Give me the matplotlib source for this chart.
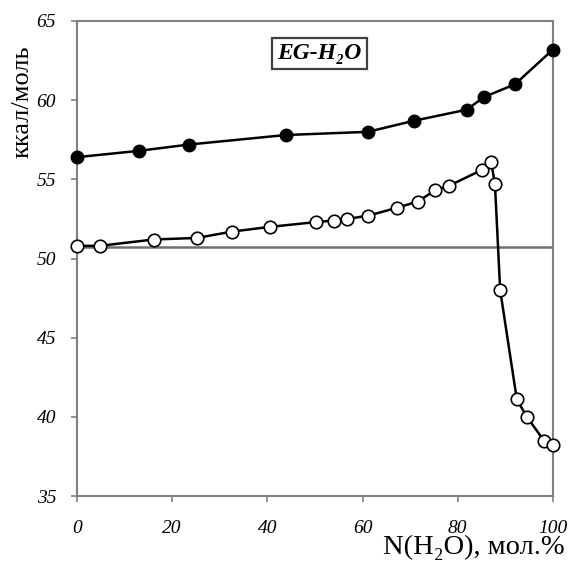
import matplotlib.pyplot as plt

# верхняя кривая (закрашенные точки)
x_top = [0, 13.0, 23.6, 43.9, 61.1, 70.8, 81.9, 85.5, 92.0, 100]
y_top = [56.4, 56.8, 57.2, 57.8, 58.0, 58.7, 59.4, 60.2, 61.0, 63.2]

# нижняя кривая (пустые точки)
x_bot = [0, 4.8, 16.1, 25.2, 32.6, 40.6, 50.2, 54.0, 56.7, 61.1, 67.2, 71.6,
         75.2, 78.2, 85.1, 87.0, 87.8, 88.9, 92.4, 94.5, 98.1, 100]
y_bot = [50.8, 50.8, 51.2, 51.3, 51.7, 52.0, 52.3, 52.4, 52.5, 52.7, 53.2, 53.6,
         54.3, 54.6, 55.6, 56.1, 54.7, 48.0, 41.1, 40.0, 38.5, 38.2]

level = 50.7
xticks = [0, 20, 40, 60, 80, 100]
yticks = [35, 40, 45, 50, 55, 60, 65]

serif = ['Liberation Serif', 'DejaVu Serif']
plt.rcParams['font.family'] = serif

fig = plt.figure(figsize=(5.69, 5.63), dpi=100)
ax = fig.add_axes([0.1353, 0.119, 0.8366, 0.8437])

ax.axhline(level, color='#707070', lw=1.8, zorder=1)
ax.plot(x_top, y_top, '-o', color='black', lw=1.8, ms=9,
        mfc='black', mec='black', clip_on=False, zorder=3)
ax.plot(x_bot, y_bot, '-o', color='black', lw=1.8, ms=9,
        mfc='white', mec='black', mew=1.2, clip_on=False, zorder=3)

ax.set_xlim(0, 100)
ax.set_ylim(35, 65)
ax.set_xticks(xticks)
ax.set_yticks(yticks)
for s in ax.spines.values():
    s.set_color('#808080')
    s.set_linewidth(1.5)
ax.tick_params(axis='both', direction='out', length=4, width=1.2, color='#808080',
               labelsize=14)
ax.tick_params(axis='x', pad=13)
ax.tick_params(axis='y', pad=11)
for lab in ax.get_xticklabels() + ax.get_yticklabels():
    lab.set_style('italic')

fig.text(0.993, 0.005, 'N(H₂O), мол.%', ha='right', va='bottom', fontsize=20.5)
fig.text(0.04, 0.82, 'ккал/моль', rotation=90, ha='center', va='center',
         fontsize=19)

ax.text(0.509, 0.932, 'EG-H₂O', transform=ax.transAxes, ha='center', va='center',
        fontsize=17, style='italic', fontweight='bold',
        bbox=dict(boxstyle='square,pad=0.22', fc='white', ec='#404040', lw=1.6))

fig.savefig('out.png', dpi=100)
